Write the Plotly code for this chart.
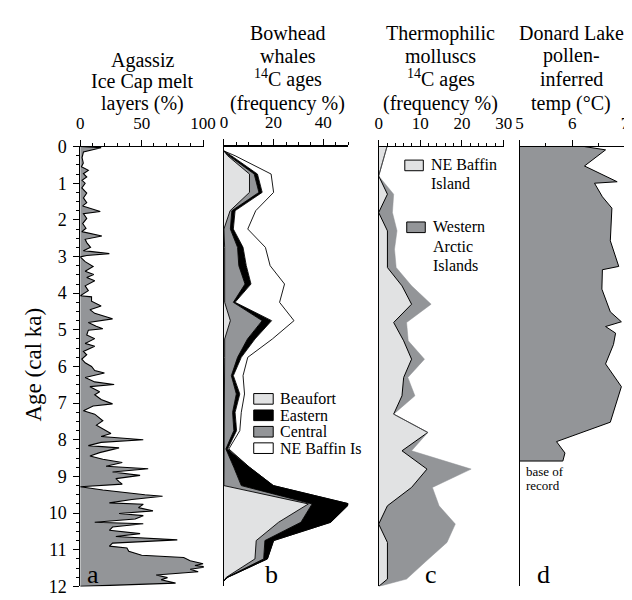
import plotly.graph_objects as go

W, H = 632, 600
FONT = "Liberation Serif"

# ---------------- data ----------------
# (a) Agassiz Ice Cap melt layers (%)
agassiz_age = [0.0, 0.03, 0.15, 0.3, 0.45, 0.55, 0.65, 0.74, 0.83, 0.92, 1.0, 1.13, 1.27, 1.4, 1.53, 1.62,
               1.77, 1.83, 1.96, 2.1, 2.23, 2.32, 2.44, 2.53, 2.62, 2.75, 2.84, 2.92, 2.97, 3.01, 3.14,
               3.27, 3.4, 3.49, 3.57, 3.66, 3.8, 3.93, 4.07, 4.1, 4.22, 4.35, 4.45, 4.55, 4.7, 4.8, 4.9,
               4.97, 5.01, 5.14, 5.24, 5.37, 5.45, 5.59, 5.68, 5.8, 5.9, 6.0, 6.11, 6.18, 6.3, 6.42,
               6.49, 6.55, 6.69, 6.77, 6.9, 7.02, 7.08, 7.21, 7.3, 7.48, 7.6, 7.72, 7.83, 7.91, 8.0,
               8.07, 8.16, 8.22, 8.35, 8.44, 8.53, 8.62, 8.72, 8.79, 8.88, 8.97, 9.06, 9.14, 9.21, 9.28,
               9.37, 9.5, 9.54, 9.63, 9.72, 9.76, 9.85, 9.94, 10.01, 10.07, 10.16, 10.25, 10.29, 10.38,
               10.47, 10.56, 10.64, 10.73, 10.82, 10.9, 10.95, 11.04, 11.15, 11.21, 11.25, 11.3, 11.38,
               11.43, 11.47, 11.53, 11.6, 11.69, 11.76, 11.82, 11.91, 12.0]
agassiz_melt = [0, 17, 2.6, 1.5, 2.5, 1, 6.6, 2.6, 5.3, 1.5, 4, 1.3, 5.3, 2.6, 5.3, 2,
                16.3, 2.6, 5.3, 2, 4.7, 1.3, 17.6, 4, 5.3, 8.4, 2.6, 23.7, 5.3, 0, 4,
                10.5, 4, 11, 5.3, 11.8, 4, 6.6, 0, 9.2, 9.2, 17, 7.9, 11.8, 26.3, 6.6, 13,
                18.4, 6.6, 5.3, 11.8, 4, 11.8, 2.6, 5.3, 1.3, 4, 9.2, 11.8, 19.7, 4, 11.8,
                27.6, 7.9, 15.8, 11.8, 17, 26.3, 10.5, 2.6, 11.8, 18.4, 13.2, 19.7, 25, 17, 51.3,
                17, 6.6, 31.6, 15.8, 7.9, 18.4, 34.2, 21, 55.3, 26.3, 48.7, 29, 31.6, 34.2, 0,
                18.4, 52.6, 67, 42, 23.7, 51.3, 47.4, 59.2, 31.6, 51.3, 44.7, 11.8, 51.3, 26.3,
                23.7, 48.7, 29, 79, 26.3, 23.7, 38, 39.5, 50, 84.2, 86.8, 89.5, 100,
                93.4, 102.6, 89.5, 96, 61.8, 71, 65.8, 77.6, 0]

# (b) Bowhead whale 14C ages (frequency %), stacked by region
bowhead_age = [0.12, 0.25, 0.75, 1.25, 1.75, 2.25, 2.75, 3.25, 3.75, 4.25, 4.75, 5.25, 5.75, 6.25,
               6.75, 7.25, 7.75, 8.25, 8.75, 9.25, 9.75, 10.25, 10.75, 11.25, 11.75, 11.85]
bowhead_beaufort = [0, 1.5, 10.3, 10.3, 2.5, 0, 0.3, 0.3, 0.3, 0.3, 2.6, 0.3, 0.3, 0.3,
                    0.3, 0.3, 0.3, 0.2, 0, 0, 34, 22, 13, 12.5, 1, 0]
bowhead_central = [0, 0.5, 1.9, 3.8, 0.7, 2.6, 5.2, 5.7, 8.2, 3.5, 12.8, 9.2, 5.2, 2.7,
                   4.7, 3.2, 3.7, 0.6, 4, 7, 1.5, 9, 3.5, 3.5, 0.3, 0]
bowhead_eastern = [0, 1, 1.3, 1.3, 1.3, 1.2, 2.2, 3, 2.4, 0.7, 3.8, 3, 1.5, 0.8,
                   1.4, 1, 1.1, 0.7, 6.3, 12.9, 15, 12, 3.5, 1.5, 0.3, 0]
bowhead_nebaffin = [0, 1.5, 5.5, 4.6, 8.3, 5.8, 9, 9.6, 13.5, 17.9, 9, 7, 2.6, 3.9,
                    1.9, 2.5, 1.3, 0.5, 0, 0, 0, 0, 0, 0, 0, 0]

# (c) Thermophilic molluscs 14C ages (frequency %), stacked
mollusc_age = [0.0, 0.8, 1.3, 1.8, 2.3, 2.8, 3.3, 3.8, 4.3, 4.8, 5.3, 5.8, 6.3, 6.8, 7.3, 7.8,
               8.3, 8.8, 9.3, 9.8, 10.3, 10.8, 11.3, 11.8, 12.0]
mollusc_nebaffin = [2, 0, 2.1, 0, 2.1, 2.1, 2.1, 5.6, 7.9, 3.6, 6, 7.9, 6, 5.6, 3.6, 11.8,
                    5.6, 11.6, 7.9, 2.1, 0, 2.1, 2.1, 2.1, 0]
mollusc_western = [0, 0, 1.5, 3.3, 2.3, 1.7, 2.1, 2.3, 4.7, 3.1, 1.1, 3.1, 1, 3.1, 0, 0,
                   2.3, 10.6, 5, 12.4, 18.4, 14.3, 9.4, 4.6, 0]

# (d) Donard Lake pollen-inferred temperature (deg C)
donard_age = [0, 0.09, 0.53, 0.96, 1.0, 1.37, 1.68, 2.57, 3.27, 3.36, 3.89, 4.51, 4.78, 4.91,
              5.09, 5.4, 5.93, 6.55, 7.52, 8.05, 8.36, 8.58, 8.58]
donard_temp = [6.23, 6.63, 6.23, 6.85, 6.42, 6.57, 6.75, 6.72, 6.88, 6.57, 6.56, 6.72, 6.93, 6.63,
               6.82, 6.78, 6.63, 6.93, 6.72, 5.7, 5.86, 5.82, 5.0]

age_ticks = list(range(0, 13))

# ---------------- styling ----------------
GRAY = "#939598"
LIGHT = "#e1e2e3"


def px(x):
    return x / W


def py(y):
    return 1 - y / H


YDOM = [py(588), py(133)]
XDOM = {
    "a": [px(70), px(196.7)],
    "b": [px(217.4), px(344.9)],
    "c": [px(376.2), px(504.4)],
    "d": [px(520.8), px(629)],
}

fig = go.Figure()

# panel a
fig.add_trace(go.Scatter(x=agassiz_melt, y=agassiz_age, mode="lines", fill="tozerox",
                         fillcolor=GRAY, line=dict(color="black", width=1.1),
                         xaxis="x", yaxis="y", showlegend=False))

# panel b (stacked)
for vals, col in [(bowhead_beaufort, LIGHT), (bowhead_central, GRAY),
                  (bowhead_eastern, "black"), (bowhead_nebaffin, "white")]:
    fig.add_trace(go.Scatter(x=vals, y=bowhead_age, mode="lines", stackgroup="b",
                             orientation="h", fillcolor=col,
                             line=dict(color="black", width=0.9),
                             xaxis="x2", yaxis="y2", showlegend=False))

# panel c (stacked)
fig.add_trace(go.Scatter(x=mollusc_nebaffin, y=mollusc_age, mode="lines", stackgroup="c",
                         orientation="h", fillcolor=LIGHT, line=dict(color="black", width=1),
                         xaxis="x3", yaxis="y3", showlegend=False))
fig.add_trace(go.Scatter(x=mollusc_western, y=mollusc_age, mode="lines", stackgroup="c",
                         orientation="h", fillcolor=GRAY, line=dict(color=GRAY, width=0.5),
                         xaxis="x3", yaxis="y3", showlegend=False))

# panel d
fig.add_trace(go.Scatter(x=donard_temp, y=donard_age, mode="lines", fill="tozerox",
                         fillcolor=GRAY, line=dict(color="black", width=1),
                         xaxis="x4", yaxis="y4", showlegend=False))

tickfont = dict(family=FONT, size=17, color="black")


def xaxis_cfg(dom, rng, tickvals, minor_dtick, yanchor, lw=1):
    return dict(domain=dom, range=rng, side="top", anchor=yanchor, showgrid=False,
                zeroline=False, showline=True, linecolor="black", linewidth=lw,
                ticks="outside", ticklen=6, tickwidth=1, tickcolor="black",
                tickmode="array", tickvals=tickvals, ticktext=[f"{v:g}" for v in tickvals],
                tickfont=tickfont, ticklabelstandoff=4,
                minor=dict(dtick=minor_dtick, ticks="outside", ticklen=3,
                           tickcolor="black", tickwidth=1, showgrid=False))


def yaxis_cfg(anchor, labels):
    d = dict(domain=YDOM, range=[12, 0], anchor=anchor, showgrid=False, zeroline=False,
             showline=True, linecolor="black", linewidth=1)
    if labels:
        d.update(ticks="outside", ticklen=6, tickwidth=1, tickcolor="black",
                 tickmode="array", tickvals=age_ticks, ticktext=[str(t) for t in age_ticks],
                 tickfont=dict(family=FONT, size=18, color="black"), ticklabelstandoff=3,
                 minor=dict(dtick=0.25, ticks="outside", ticklen=3, tickcolor="black",
                            tickwidth=1, showgrid=False))
    else:
        d.update(ticks="", showticklabels=False)
    return d


fig.update_layout(
    width=W, height=H, margin=dict(l=0, r=0, t=0, b=0),
    paper_bgcolor="white", plot_bgcolor="rgba(0,0,0,0)",
    font=dict(family=FONT, color="black"),
    xaxis=xaxis_cfg(XDOM["a"], [0, 100.5], [0, 50, 100], 10, "y"),
    xaxis2=xaxis_cfg(XDOM["b"], [0, 50], [0, 20, 40], 5, "y2", 1.6),
    xaxis3=xaxis_cfg(XDOM["c"], [0, 30], [0, 10, 20, 30], 2, "y3"),
    xaxis4=xaxis_cfg(XDOM["d"], [5, 7], [5, 6, 7], 0.5, "y4"),
    # longer unlabeled ticks at 10, 30, 50 on panel b
    xaxis5=dict(overlaying="x2", side="top", anchor="y2", range=[0, 50], showgrid=False,
                zeroline=False, showline=False, ticks="outside", ticklen=6, tickwidth=1,
                tickcolor="black", tickmode="array", tickvals=[10, 30, 50],
                showticklabels=False),
    yaxis=yaxis_cfg("x", True),
    yaxis2=yaxis_cfg("x2", False),
    yaxis3=yaxis_cfg("x3", False),
    yaxis4=yaxis_cfg("x4", False),
    showlegend=False,
)

ann = []
shapes = []


def text(x, y, s, size, xanchor="center", angle=0):
    ann.append(dict(x=px(x), y=py(y), xref="paper", yref="paper", text=s, showarrow=False,
                    xanchor=xanchor, yanchor="middle", textangle=angle, borderpad=0,
                    font=dict(family=FONT, size=size, color="black")))


# titles
TS = 20
for s, y in [("Agassiz", 44), ("Ice Cap melt", 66), ("layers (%)", 88)]:
    text(134, y, s, TS)
for s, y in [("Bowhead", 16), ("whales", 39), ("<sup>14</sup>C ages", 63), ("(frequency %)", 88)]:
    text(283, y, s, TS)
for s, y in [("Thermophilic", 16), ("molluscs", 39), ("<sup>14</sup>C ages", 63), ("(frequency %)", 88)]:
    text(440, y, s, TS)
for s, y in [("Donard Lake", 16), ("pollen-", 39), ("inferred", 63), ("temp (°C)", 88)]:
    text(574, y, s, TS)

text(22, 358, "Age (cal ka)", 23, angle=-90)

# panel letters
for s, x in [("a", 83), ("b", 266), ("c", 430), ("d", 545)]:
    text(x, 576, s, 26)

# base of record
text(526, 469, "base of", 13, xanchor="left")
text(526, 484, "record", 13, xanchor="left")


def box(x0, y0, x1, y1, col):
    shapes.append(dict(type="rect", xref="paper", yref="paper", x0=px(x0), x1=px(x1),
                       y0=py(y1), y1=py(y0), fillcolor=col, line=dict(color="black", width=1)))


# legend panel b
LF = 16
for s, col, y in [("Beaufort", LIGHT, 394), ("Eastern", "black", 411),
                  ("Central", GRAY, 428), ("NE Baffin Is", "white", 445)]:
    box(248, y - 5.5, 268, y + 5.5, col)
    text(274, y, s, LF, xanchor="left")

# legend panel c
box(403, 147, 422, 158, LIGHT)
text(429, 152, "NE Baffin", LF, xanchor="left")
text(429, 171, "Island", LF, xanchor="left")
box(405, 211, 424, 222, GRAY)
text(431, 216, "Western", LF, xanchor="left")
text(431, 236, "Arctic", LF, xanchor="left")
text(431, 256, "Islands", LF, xanchor="left")

fig.update_layout(annotations=ann, shapes=shapes)

fig.write_html("out.html")
